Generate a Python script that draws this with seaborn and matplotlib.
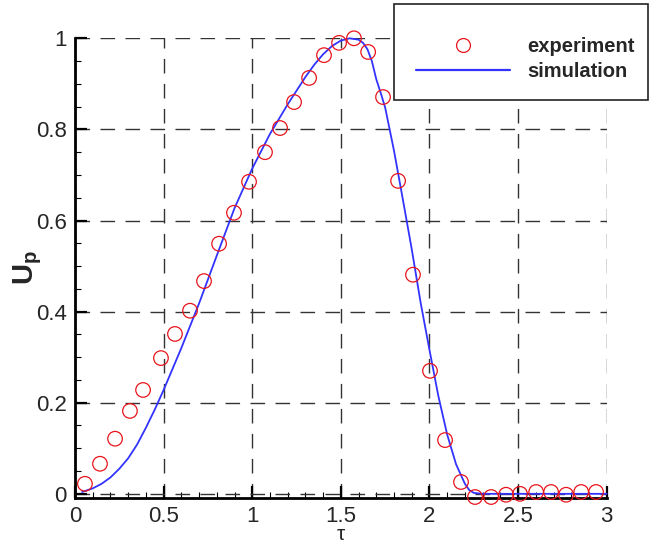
import numpy as np
import pandas as pd
import matplotlib
matplotlib.use("Agg")
import matplotlib.pyplot as plt
from matplotlib.lines import Line2D
from matplotlib.patches import Rectangle
import seaborn as sns

# ---- data ----
exp_tau = [0.056, 0.141, 0.226, 0.310, 0.384, 0.485, 0.564, 0.649, 0.728, 0.813,
           0.897, 0.982, 1.072, 1.157, 1.236, 1.321, 1.405, 1.490, 1.574, 1.654,
           1.738, 1.823, 1.907, 2.003, 2.088, 2.178, 2.257, 2.348, 2.432, 2.511,
           2.602, 2.686, 2.771, 2.856, 2.940]
exp_up = [0.022, 0.066, 0.121, 0.182, 0.228, 0.298, 0.351, 0.402, 0.467, 0.549,
          0.617, 0.685, 0.750, 0.803, 0.860, 0.913, 0.963, 0.990, 1.000, 0.970,
          0.871, 0.687, 0.481, 0.270, 0.118, 0.026, -0.007, -0.007, -0.002, 0.000,
          0.004, 0.004, -0.002, 0.004, 0.004]

sim_tau = [0.04, 0.1, 0.15, 0.2, 0.25, 0.3, 0.35, 0.4, 0.45, 0.5, 0.6, 0.7, 0.8,
           0.9, 1.0, 1.1, 1.2, 1.3, 1.35, 1.4, 1.45, 1.5, 1.55, 1.6, 1.625, 1.65,
           1.675, 1.7, 1.725, 1.75, 1.8, 1.85, 1.9, 1.95, 2.0, 2.05, 2.1, 2.15,
           2.2, 2.225, 2.25, 2.3, 3.0]
sim_up = [0.004, 0.012, 0.022, 0.036, 0.055, 0.078, 0.108, 0.145, 0.185, 0.228,
          0.32, 0.418, 0.523, 0.627, 0.714, 0.79, 0.855, 0.915, 0.942, 0.965,
          0.983, 0.995, 1.0, 0.997, 0.99, 0.976, 0.95, 0.91, 0.88, 0.848, 0.753,
          0.646, 0.537, 0.42, 0.316, 0.215, 0.13, 0.065, 0.022, 0.008, 0.002,
          0.0, 0.0]

x_ticks = [0, 0.5, 1, 1.5, 2, 2.5, 3]
x_tick_labels = ["0", "0.5", "1", "1.5", "2", "2.5", "3"]
y_ticks = [0, 0.2, 0.4, 0.6, 0.8, 1.0]
y_tick_labels = ["0", "0.2", "0.4", "0.6", "0.8", "1"]

exp_df = pd.DataFrame({"tau": exp_tau, "up": exp_up})
sim_df = pd.DataFrame({"tau": sim_tau, "up": sim_up})

# ---- style ----
sns.set_style("white")
plt.rcParams["font.family"] = ["Liberation Sans", "DejaVu Sans"]
plt.rcParams["mathtext.fontset"] = "custom"
plt.rcParams["mathtext.rm"] = "Liberation Sans"
plt.rcParams["mathtext.bf"] = "Liberation Sans:bold"
plt.rcParams["mathtext.it"] = "Liberation Sans:italic"

W, H = 649, 543
fig = plt.figure(figsize=(W / 100, H / 100), dpi=100)
ax = fig.add_axes([75 / W, 1 - 497.7 / H, (606.7 - 75) / W, (497.7 - 38.3) / H])

sns.lineplot(data=sim_df, x="tau", y="up", ax=ax, color="#3333ff", linewidth=1.3,
             sort=False, estimator=None, clip_on=False, zorder=4)
sns.scatterplot(data=exp_df, x="tau", y="up", ax=ax, marker="o", s=110,
                facecolors="none", edgecolor="#e8141b", linewidth=0.9,
                clip_on=False, zorder=5)

ax.set_xlim(0, 3)
ax.set_ylim(-0.0085, 1.0)
ax.set_xticks(x_ticks)
ax.set_xticklabels(x_tick_labels)
ax.set_yticks(y_ticks)
ax.set_yticklabels(y_tick_labels)
ax.set_xticks(np.arange(0, 3.01, 0.1), minor=True)
ax.set_yticks(np.arange(0, 1.001, 0.05), minor=True)
ax.tick_params(axis="both", which="both", bottom=True, left=True, top=False, right=False)
ax.tick_params(axis="both", which="major", direction="in", length=8.5, width=1.6,
               labelsize=16, color="black")
ax.tick_params(axis="both", which="minor", direction="in", length=4.5, width=0.8,
               color="black")
ax.tick_params(axis="x", which="major", pad=6)
ax.tick_params(axis="y", which="major", pad=6)

ax.grid(True, which="major", color="#333333", linestyle=(0, (10.5, 7.5)), linewidth=1.0)
ax.set_axisbelow(True)

for s in ["top", "right"]:
    ax.spines[s].set_visible(False)
for s in ["left", "bottom"]:
    ax.spines[s].set_linewidth(2.0)
    ax.spines[s].set_color("black")

ax.set_xlabel("τ", fontsize=15)
ax.set_ylabel(r"$\mathbf{U_p}$", fontsize=21)
ax.xaxis.set_label_coords(0.5, -0.059)
ax.yaxis.set_label_coords(-0.058, 0.5)

# legend box
rect = Rectangle((394 / W, 1 - 100 / H), (648 - 394) / W, 96 / H,
                 transform=fig.transFigure, facecolor="white", edgecolor="#222222",
                 linewidth=1.2, clip_on=False, zorder=10)
ax.add_artist(rect)

handles = [
    Line2D([], [], linestyle="none", marker="o", markersize=10,
           markerfacecolor="none", markeredgecolor="#e8141b", markeredgewidth=0.9),
    Line2D([], [], color="#3333ff", linewidth=1.6),
]
leg = ax.legend(handles, ["experiment", "simulation"], frameon=False,
                loc="upper left", bbox_to_anchor=(416 / W, 1 - 37 / H),
                bbox_transform=fig.transFigure, borderaxespad=0, borderpad=0,
                handlelength=4.68, handletextpad=0.83, labelspacing=0.3,
                prop={"size": 14.5, "weight": "bold"})
leg.set_zorder(11)

fig.savefig("out.png", dpi=100)
